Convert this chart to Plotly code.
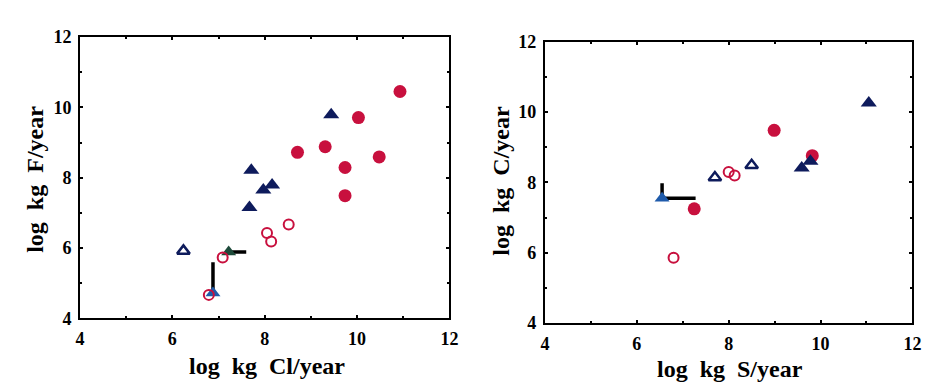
import plotly.graph_objects as go

W, H = 940, 383

# ---- Left panel: log kg F/year vs log kg Cl/year ----
L_red_fill_x = [10.93, 10.03, 9.31, 8.71, 10.48, 9.74, 9.74]
L_red_fill_y = [10.45, 9.71, 8.88, 8.72, 8.59, 8.29, 7.49]
L_navy_fill_x = [9.44, 7.71, 8.16, 7.97, 7.67]
L_navy_fill_y = [9.79, 8.21, 7.79, 7.65, 7.15]
L_red_open_x = [8.52, 8.05, 8.14, 7.09, 6.79]
L_red_open_y = [6.67, 6.43, 6.19, 5.73, 4.67]
L_navy_open_x = [6.24]
L_navy_open_y = [5.92]
L_green_x = [7.22]
L_green_y = [5.89]
L_green_errx = [0.38]
L_blue_x = [6.88]
L_blue_y = [4.72]
L_blue_erry = [0.88]

# ---- Right panel: log kg C/year vs log kg S/year ----
R_red_fill_x = [8.99, 9.82, 7.25]
R_red_fill_y = [9.48, 8.76, 7.25]
R_navy_fill_x = [11.05, 9.78, 9.59]
R_navy_fill_y = [10.26, 8.60, 8.41]
R_navy_open_x = [8.50, 7.70]
R_navy_open_y = [8.49, 8.14]
R_red_open_x = [8.00, 8.13, 6.80]
R_red_open_y = [8.30, 8.20, 5.86]
R_blue_x = [6.55]
R_blue_y = [7.55]
R_blue_errx = [0.73]
R_blue_erry = [0.43]

tick_vals = [4, 6, 8, 10, 12]
tick_text = ["4", "6", "8", "10", "12"]

RED = "#c8103e"
NAVY = "#0e1b5c"
BLUE = "#1f5bab"
GREEN = "#1d4a3a"

fig = go.Figure()

def add(x, y, xa, ya, symbol, color, size, lw=0, lc=None, ex=None, ey=None):
    kw = {}
    if ex is not None:
        kw["error_x"] = dict(type="data", symmetric=False, array=ex, arrayminus=[0]*len(ex),
                             color="black", thickness=3.5, width=0)
    if ey is not None:
        kw["error_y"] = dict(type="data", symmetric=False, array=ey, arrayminus=[0]*len(ey),
                             color="black", thickness=3.5, width=0)
    fig.add_trace(go.Scatter(x=x, y=y, mode="markers", xaxis=xa, yaxis=ya,
                             marker=dict(symbol=symbol, color=color, size=size,
                                         line=dict(width=lw, color=lc or color)),
                             showlegend=False, **kw))

# left
add(L_blue_x, L_blue_y, "x", "y", "triangle-up", BLUE, 13, ey=L_blue_erry)
add(L_green_x, L_green_y, "x", "y", "triangle-up", GREEN, 13, ex=L_green_errx)
add(L_red_fill_x, L_red_fill_y, "x", "y", "circle", RED, 13)
add(L_navy_fill_x, L_navy_fill_y, "x", "y", "triangle-up", NAVY, 14)
add(L_red_open_x, L_red_open_y, "x", "y", "circle-open", RED, 10, lw=2)
add(L_navy_open_x, L_navy_open_y, "x", "y", "triangle-up-open", NAVY, 11, lw=2.5)

# right
add(R_blue_x, R_blue_y, "x2", "y2", "triangle-up", BLUE, 13, ex=R_blue_errx, ey=R_blue_erry)
add(R_red_fill_x, R_red_fill_y, "x2", "y2", "circle", RED, 13)
add(R_navy_fill_x, R_navy_fill_y, "x2", "y2", "triangle-up", NAVY, 14)
add(R_red_open_x, R_red_open_y, "x2", "y2", "circle-open", RED, 10, lw=2)
add(R_navy_open_x, R_navy_open_y, "x2", "y2", "triangle-up-open", NAVY, 11, lw=2.5)

FONT = "Liberation Serif"
tickfont = dict(family=FONT, size=18, color="black", weight="bold")

def axis(domain, anchor):
    return dict(domain=domain, anchor=anchor, range=[4, 12], tickvals=tick_vals, ticktext=tick_text,
                showgrid=False, zeroline=False, showline=True, linecolor="black", linewidth=2,
                mirror="ticks", ticks="inside", ticklen=3, tickwidth=1.5, tickcolor="black",
                tickfont=tickfont, ticklabelstandoff=3,
                minor=dict(ticks="inside", ticklen=2, dtick=1, tickcolor="black"))

xl = [68 / W, 443 / W]
xr = [540 / W, 913 / W]
yl = [1 - 317 / H, 1 - 20 / H]
yr = [1 - 322 / H, 1 - 25 / H]

fig.update_layout(
    width=W, height=H, margin=dict(l=0, r=0, t=0, b=0),
    paper_bgcolor="white", plot_bgcolor="white",
    font=dict(family=FONT, color="black", weight="bold"),
    xaxis=axis(xl, "y"), yaxis=axis(yl, "x"),
    xaxis2=axis(xr, "y2"), yaxis2=axis(yr, "x2"),
)

titlefont = dict(family=FONT, size=24, color="black", weight="bold")
NB = "\u00a0\u00a0"
ann = [
    (f"log{NB}kg{NB}Cl/year", 258, 367, 0),
    (f"log{NB}kg{NB}S/year", 728, 370, 0),
    (f"log{NB}kg{NB}F/year", 22, 170, -90),
    (f"log{NB}kg{NB}C/year", 495, 172, -90),
]
for text, px, py, ang in ann:
    fig.add_annotation(text=text, x=px / W, y=1 - py / H, xref="paper", yref="paper",
                       showarrow=False, textangle=ang, font=titlefont,
                       xanchor="center", yanchor="middle")

fig.write_html("out.html")
